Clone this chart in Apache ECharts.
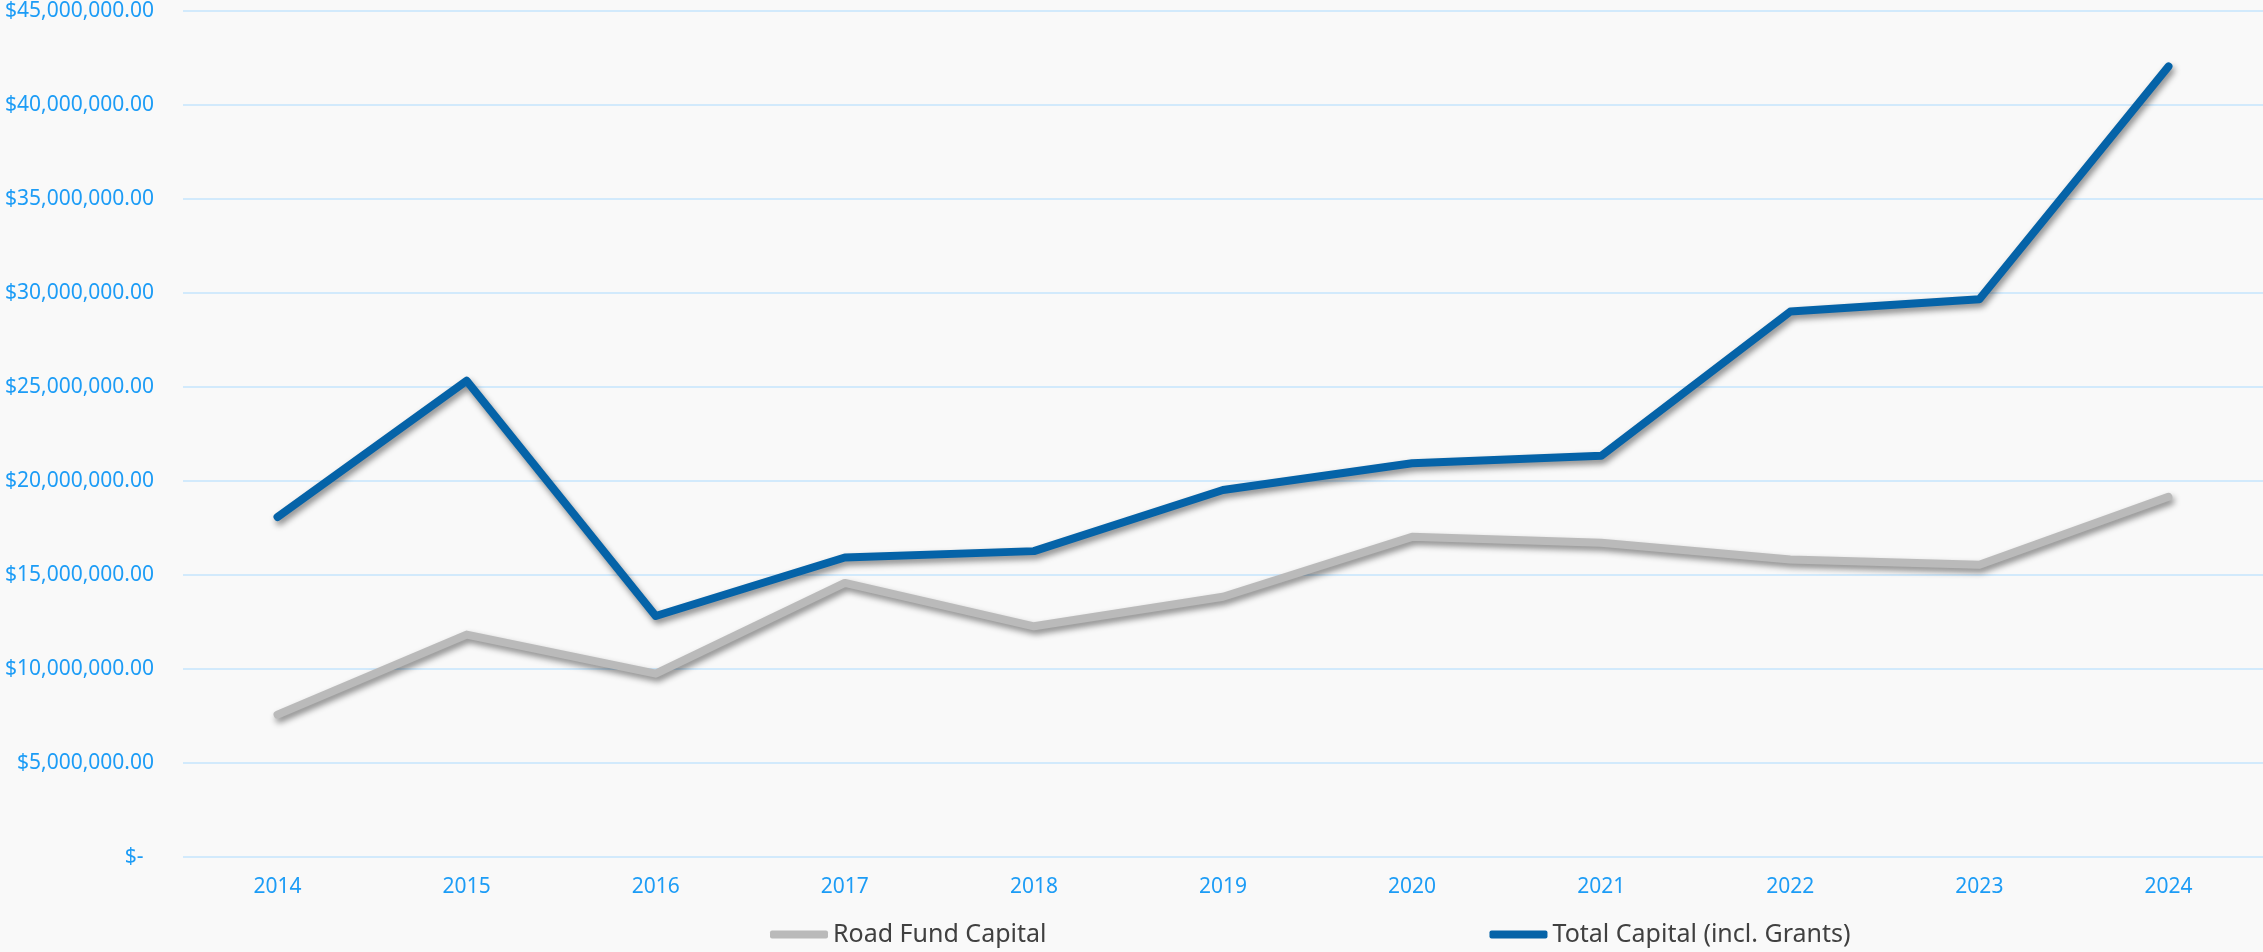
<!DOCTYPE html>
<html>
<head>
<meta charset="utf-8">
<title>Capital</title>
<script src="https://cdn.jsdelivr.net/npm/echarts@6/dist/echarts.min.js"></script>
<style>
  html, body { margin: 0; padding: 0; background: #f9f9f9; }
  #chart { width: 2263px; height: 952px; }
</style>
</head>
<body>
<div id="chart"></div>
<script>
const years = ['2014', '2015', '2016', '2017', '2018', '2019', '2020', '2021', '2022', '2023', '2024']
const roadFundCapital = [7570000, 11830000, 9750000, 14580000, 12270000, 13840000, 17030000, 16710000, 15820000, 15540000, 19160000]
const totalCapital = [18090000, 25330000, 12820000, 15930000, 16270000, 19520000, 20940000, 21340000, 29010000, 29670000, 42050000]
const seriesNames = ['Road Fund Capital', 'Total Capital (incl. Grants)']

const labelBlue = '#1c9cf6'
const gridBlue = '#d2eafc'
const font = 'Noto Sans'

const chart = echarts.init(document.getElementById('chart'))

// excel style shadow under the lines
const shadow = {
  shadowColor: 'rgba(0, 0, 0, 0.45)',
  shadowBlur: 6,
  shadowOffsetX: 2,
  shadowOffsetY: 4
}

function money(v) {
  if (v === 0) return '$-\u2002'
  return '$' + v.toLocaleString('en-US', { minimumFractionDigits: 2, maximumFractionDigits: 2 })
}

chart.setOption({
  backgroundColor: '#f9f9f9',
  animation: false,
  grid: {
    left: 183,
    right: 0,
    top: 11,
    bottom: 95
  },
  legend: {
    data: seriesNames,
    left: 770,
    top: 922,
    padding: 0,
    icon: 'roundRect',
    itemWidth: 58,
    itemHeight: 8,
    itemGap: 443,
    textStyle: {
      fontFamily: font,
      fontSize: 25,
      color: '#404040'
    }
  },
  xAxis: {
    type: 'category',
    data: years,
    boundaryGap: true,
    axisLine: { show: false },
    axisTick: { show: false },
    axisLabel: {
      color: labelBlue,
      fontFamily: font,
      fontSize: 21,
      margin: 20
    }
  },
  yAxis: {
    type: 'value',
    min: 0,
    max: 45000000,
    interval: 5000000,
    axisLine: { show: false },
    axisTick: { show: false },
    axisLabel: {
      color: labelBlue,
      fontFamily: font,
      fontSize: 21,
      margin: 29,
      formatter: money
    },
    splitLine: {
      lineStyle: { color: gridBlue, width: 2 }
    }
  },
  series: [{
    name: seriesNames[0],
    type: 'line',
    data: roadFundCapital,
    symbol: 'none',
    itemStyle: { color: '#bababa' },
    lineStyle: Object.assign({ color: '#bababa', width: 8, cap: 'round', join: 'round' }, shadow)
  }, {
    name: seriesNames[1],
    type: 'line',
    data: totalCapital,
    symbol: 'none',
    itemStyle: { color: '#0563a8' },
    lineStyle: Object.assign({ color: '#0563a8', width: 8, cap: 'round', join: 'round' }, shadow)
  }]
})
</script>
</body>
</html>
